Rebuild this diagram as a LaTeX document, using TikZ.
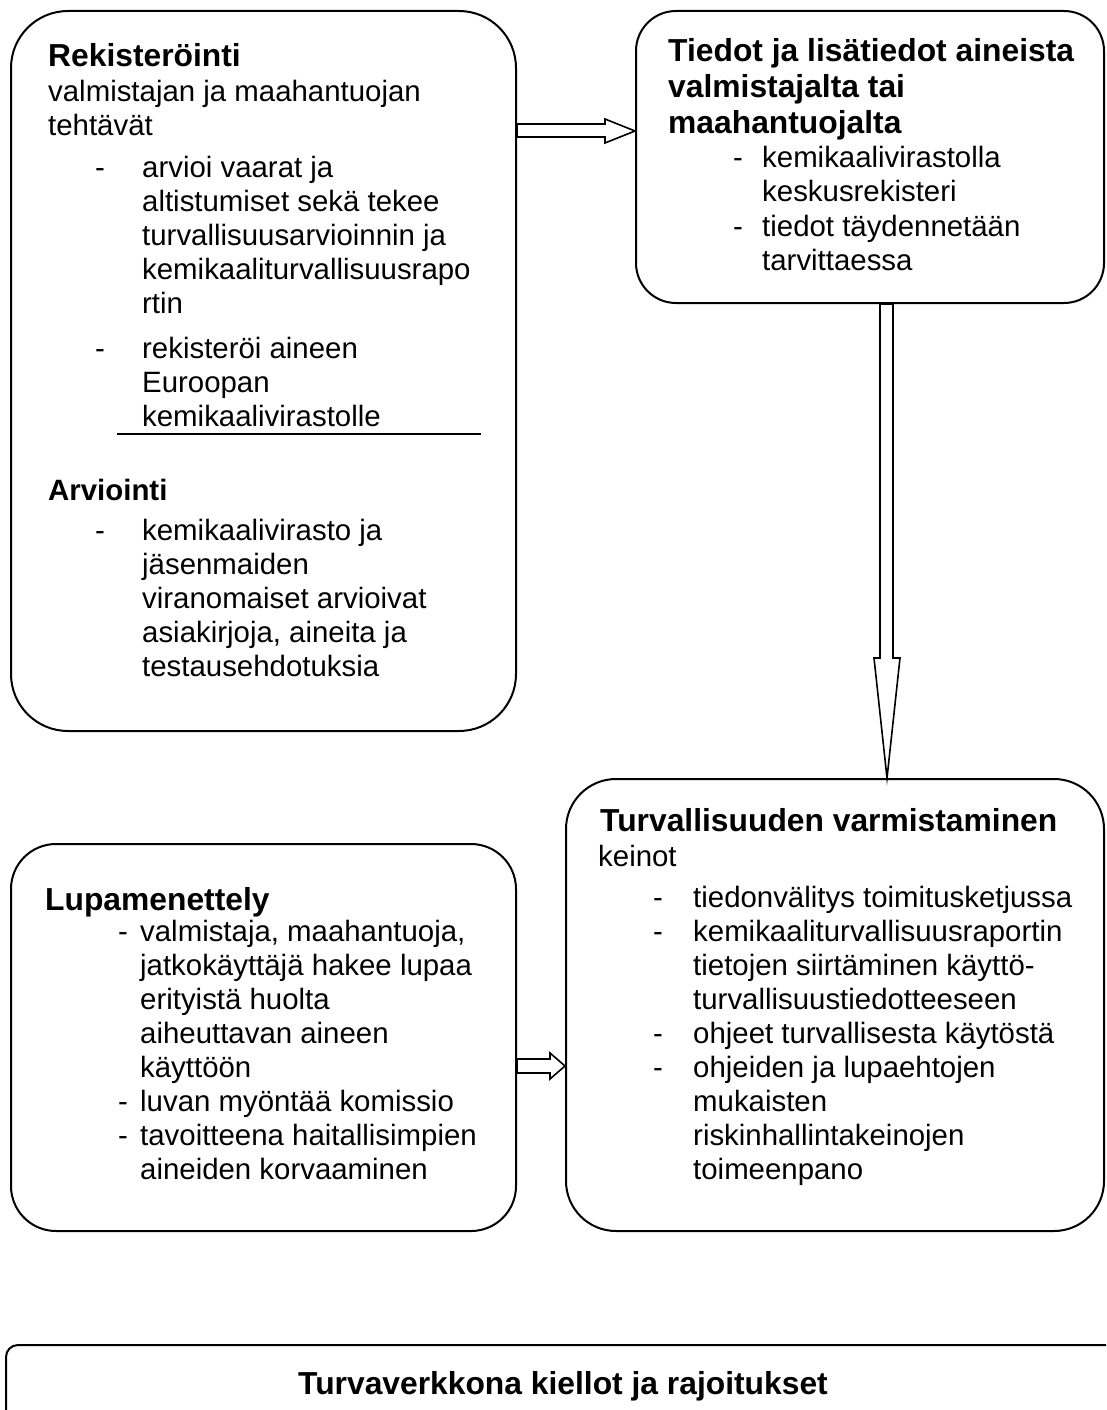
\documentclass[tikz,border=0pt]{standalone}
\usepackage{fontspec}
\setmainfont{Liberation Sans}
\newcommand{\stack}[1]{\begin{tabular}[t]{@{}l@{}}#1\end{tabular}}
\tikzset{
  box/.style={draw, line width=2pt, anchor=north west, inner sep=0pt},
  body/.style={anchor=base west, inner sep=0pt, font=\fontsize{29.4pt}{34pt}\selectfont},
  head/.style={body, font=\bfseries\fontsize{31.8pt}{36pt}\selectfont},
  subhead/.style={body, font=\bfseries\fontsize{29.4pt}{34pt}\selectfont},
  blockarrow/.style={draw, line width=1.6pt, fill=white, line join=miter},
}
\begin{document}
\begin{tikzpicture}[x=1pt, y=-1pt]
  \useasboundingbox (0,0) rectangle (1106,1410);
  \clip (0,0) rectangle (1106,1410);

  % boxes
  \node [box, rounded corners=57pt, minimum width=505pt, minimum height=720pt] (reg)   at (10,10)   {};
  \node [box, rounded corners=40pt, minimum width=468pt, minimum height=292pt] (info)  at (635,10)  {};
  \node [box, rounded corners=45pt, minimum width=505pt, minimum height=387pt] (lupa)  at (10,843)  {};
  \node [box, rounded corners=50pt, minimum width=538pt, minimum height=452pt] (turva) at (565,778) {};
  \node [box, rounded corners=12pt, minimum width=1200pt, minimum height=200pt] (kiellot) at (5,1344) {};

  % Rekisteröinti / Arviointi
  \node [head] (reg-title) at (48,67)  {Rekisteröinti};
  \node [body] (reg-sub)   at (48,102) {\stack{valmistajan ja maahantuojan\\tehtävät}};
  \node [body] at (95,177) {-};
  \node [body] (reg-b1) at (142,177) {\stack{arvioi vaarat ja\\altistumiset sekä tekee\\turvallisuusarvioinnin ja\\kemikaaliturvallisuusrapo\\rtin}};
  \node [body] at (95,358) {-};
  \node [body] (reg-b2) at (142,358) {\stack{rekisteröi aineen\\Euroopan\\kemikaalivirastolle}};
  \draw [line width=1.5pt] (117,434) -- (481,434);
  \node [subhead] (arv-title) at (48,500) {Arviointi};
  \node [body] at (95,540) {-};
  \node [body] (arv-b1) at (142,540) {\stack{kemikaalivirasto ja\\jäsenmaiden\\viranomaiset arvioivat\\asiakirjoja, aineita ja\\testausehdotuksia}};

  % Tiedot
  \node [head] (info-title) at (668,62) {\stack{Tiedot ja lisätiedot aineista\\valmistajalta tai\\maahantuojalta}};
  \node [body] at (733,167) {-};
  \node [body] (info-b1) at (762,167) {\stack{kemikaalivirastolla\\keskusrekisteri}};
  \node [body] at (733,236) {-};
  \node [body] (info-b2) at (762,236) {\stack{tiedot täydennetään\\tarvittaessa}};

  % Lupamenettely
  \node [head] (lupa-title) at (45,910) {Lupamenettely};
  \node [body] at (118,941)  {-};
  \node [body] (lupa-b1) at (140,941)  {\stack{valmistaja, maahantuoja,\\jatkokäyttäjä hakee lupaa\\erityistä huolta\\aiheuttavan aineen\\käyttöön}};
  \node [body] at (118,1111) {-};
  \node [body] (lupa-b2) at (140,1111) {luvan myöntää komissio};
  \node [body] at (118,1145) {-};
  \node [body] (lupa-b3) at (140,1145) {\stack{tavoitteena haitallisimpien\\aineiden korvaaminen}};

  % Turvallisuuden varmistaminen
  \node [head] (turva-title) at (600,831) {Turvallisuuden varmistaminen};
  \node [body] (turva-sub)   at (598,866) {keinot};
  \node [body] at (653,907)  {-};
  \node [body] (turva-b1) at (693,907)  {tiedonvälitys toimitusketjussa};
  \node [body] at (653,941)  {-};
  \node [body] (turva-b2) at (693,941)  {\stack{kemikaaliturvallisuusraportin\\tietojen siirtäminen käyttö-\\turvallisuustiedotteeseen}};
  \node [body] at (653,1043) {-};
  \node [body] (turva-b3) at (693,1043) {ohjeet turvallisesta käytöstä};
  \node [body] at (653,1077) {-};
  \node [body] (turva-b4) at (693,1077) {\stack{ohjeiden ja lupaehtojen\\mukaisten\\riskinhallintakeinojen\\toimeenpano}};

  % Turvaverkko
  \node [head, anchor=base] (kiellot-title) at (563,1394) {Turvaverkkona kiellot ja rajoitukset};

  % block arrows
  \draw [blockarrow] (reg.east |- 0,124) -- (605,124) -- (605,119) -- (info.west |- 0,131)
    -- (605,143) -- (605,137) -- (reg.east |- 0,137) -- cycle;
  \draw [blockarrow] (info.south -| 880,0) -- (880,658) -- (874,658) -- (turva.north -| 887,0)
    -- (900,658) -- (893,658) -- (info.south -| 893,0) -- cycle;
  \draw [blockarrow] (lupa.east |- 0,1059) -- (550,1059) -- (550,1053) -- (turva.west |- 0,1066)
    -- (550,1079) -- (550,1073) -- (lupa.east |- 0,1073) -- cycle;
\end{tikzpicture}
\end{document}
